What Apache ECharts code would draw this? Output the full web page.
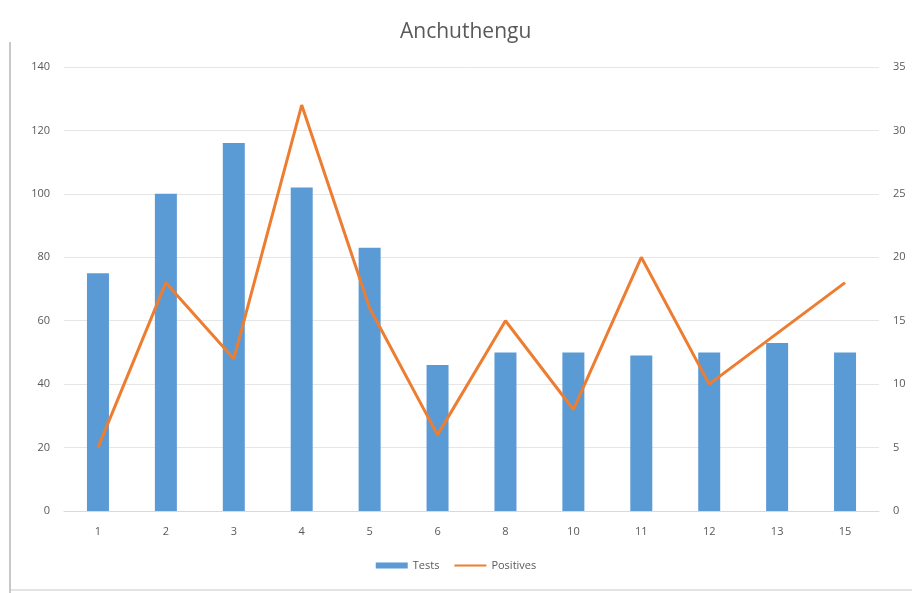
<!DOCTYPE html>
<html><head><meta charset="utf-8">
<script src="https://cdn.jsdelivr.net/npm/echarts@6/dist/echarts.min.js"></script>
<style>html,body{margin:0;padding:0;background:#fff}#c{width:912px;height:593px}</style>
</head><body><div id="c"></div>
<script>
const categories = ['1','2','3','4','5','6','8','10','11','12','13','15'];
const tests = [75,100,116,102,83,46,50,50,49,50,53,50];
const positives = [5,18,12,32,16,6,15,8,20,10,14,18];
const leftTicks = {min:0,max:140,interval:20};
const rightTicks = {min:0,max:35,interval:5};

const chart = echarts.init(document.getElementById('c'));
const txt = '#595959';
chart.setOption({
  animation:false,
  backgroundColor:'#fff',
  title:{text:'Anchuthengu',left:395,top:17,padding:5,textStyle:{fontFamily:'Open Sans',fontSize:21,fontWeight:'normal',color:txt}},
  legend:{bottom:17,left:'center',itemWidth:32,itemHeight:6,itemGap:14,
    textStyle:{fontFamily:'Open Sans',fontSize:11,color:txt},
    data:[{name:'Tests',icon:'rect'},{name:'Positives',itemStyle:{opacity:0}}]},
  grid:{left:64,right:33,top:67,bottom:82},
  xAxis:{type:'category',data:categories,
    axisLine:{lineStyle:{color:'#d9d9d9'}},axisTick:{show:false},
    axisLabel:{color:txt,fontFamily:'Open Sans',fontSize:11,margin:15}},
  yAxis:[
    {type:'value',min:leftTicks.min,max:leftTicks.max,interval:leftTicks.interval,
     axisLine:{show:false},axisTick:{show:false},
     splitLine:{lineStyle:{color:'#e6e6e6'}},
     axisLabel:{color:txt,fontFamily:'Open Sans',fontSize:11,margin:14}},
    {type:'value',min:rightTicks.min,max:rightTicks.max,interval:rightTicks.interval,
     axisLine:{show:false},axisTick:{show:false},splitLine:{show:false},
     axisLabel:{color:txt,fontFamily:'Open Sans',fontSize:11,margin:14}}
  ],
  series:[
    {name:'Tests',type:'bar',data:tests,barWidth:22,itemStyle:{color:'#5b9bd5'}},
    {name:'Positives',type:'line',yAxisIndex:1,data:positives,symbol:'none',
     lineStyle:{color:'#ed7d31',width:3},itemStyle:{color:'#ed7d31'}}
  ],
  graphic:[
    {type:'line',shape:{x1:10,y1:42,x2:10,y2:593},style:{stroke:'#c8c8c8',lineWidth:2}},
    {type:'line',shape:{x1:10,y1:590,x2:912,y2:590},style:{stroke:'#c8c8c8',lineWidth:1}}
  ]
});
</script></body></html>
